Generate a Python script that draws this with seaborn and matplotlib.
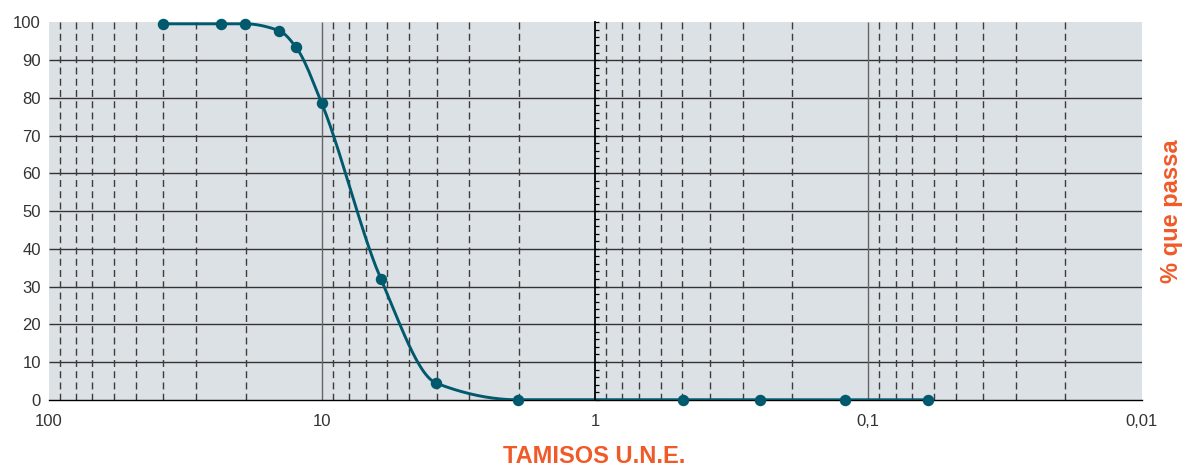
import numpy as np
import matplotlib
matplotlib.use("Agg")
import matplotlib.pyplot as plt
from matplotlib.ticker import FixedLocator, NullLocator, MultipleLocator, NullFormatter
import seaborn as sns

# sieve opening (mm) and % passing
sieve_mm = [38.0, 23.4, 19.1, 14.35, 12.43, 10.0, 6.07, 3.81, 1.91, 0.478, 0.249, 0.122, 0.0607]
passing = [99.6, 99.6, 99.6, 97.8, 93.4, 78.5, 31.9, 4.4, 0.0, 0.0, 0.0, 0.0, 0.0]

x_ticks = [100, 10, 1, 0.1, 0.01]
x_tick_labels = ["100", "10", "1", "0,1", "0,01"]
y_ticks = list(range(0, 101, 10))

# dashed guide lines inside each decade (fraction of the decade start)
decade_starts = [100, 10, 1, 0.1]
dash_factors = [0.9115, 0.7945, 0.6911, 0.5757, 0.4787, 0.3800, 0.2881, 0.1901]

ORANGE = "#f05a28"
CURVE = "#00596c"
BG = "#dce1e5"


def monotone_curve(xk, yk, n=400):
    """Monotone cubic (Fritsch-Carlson) through the points, in log10(x)."""
    t = np.log10(np.asarray(xk, float))[::-1]
    y = np.asarray(yk, float)[::-1]
    h = np.diff(t)
    delta = np.diff(y) / h
    d = np.zeros_like(y)
    d[0], d[-1] = delta[0], delta[-1]
    for k in range(1, len(y) - 1):
        if delta[k - 1] * delta[k] <= 0:
            d[k] = 0.0
        else:
            w1 = 2 * h[k] + h[k - 1]
            w2 = h[k] + 2 * h[k - 1]
            d[k] = (w1 + w2) / (w1 / delta[k - 1] + w2 / delta[k])
    ts = np.linspace(t[0], t[-1], n)
    idx = np.clip(np.searchsorted(t, ts) - 1, 0, len(h) - 1)
    s = (ts - t[idx]) / h[idx]
    h00 = 2 * s**3 - 3 * s**2 + 1
    h10 = s**3 - 2 * s**2 + s
    h01 = -2 * s**3 + 3 * s**2
    h11 = s**3 - s**2
    ys = h00 * y[idx] + h10 * h[idx] * d[idx] + h01 * y[idx + 1] + h11 * h[idx] * d[idx + 1]
    return 10 ** ts, ys


sns.set_style("white")
plt.rcParams["font.family"] = ["Liberation Sans", "DejaVu Sans"]

fig = plt.figure(figsize=(11.89, 4.69), dpi=100)
ax = fig.add_axes([0.04087, 0.14755, 0.9192, 0.8049])
ax.set_facecolor(BG)
ax.set_xscale("log")
ax.set_xlim(100, 0.01)
ax.set_ylim(0, 100)

# grid
ax.hlines(y_ticks[1:-1], 100, 0.01, colors="#333333", linewidth=1.0, zorder=1)
ax.vlines([10, 0.1], 0, 100, colors="#666666", linewidth=1.0, zorder=1)
dash_x = [d * f for d in decade_starts for f in dash_factors]
ax.vlines(dash_x, 100, 0, colors="#3c3c3c", linewidth=1.0,
          linestyles=(0, (5.0, 3.1)), zorder=1)

# grading curve
cx, cy = monotone_curve(sieve_mm, passing)
sns.lineplot(x=cx, y=cy, ax=ax, sort=False, estimator=None, color=CURVE,
             linewidth=2.1, zorder=3)
sns.scatterplot(x=sieve_mm, y=passing, ax=ax, color=CURVE, s=68,
                edgecolor=CURVE, linewidth=0, zorder=4, clip_on=False)

ax.xaxis.set_major_locator(FixedLocator(x_ticks))
ax.xaxis.set_minor_locator(NullLocator())
ax.xaxis.set_minor_formatter(NullFormatter())
ax.set_xticklabels(x_tick_labels)
ax.set_yticks(y_ticks)
ax.tick_params(axis="y", length=0, pad=5.5, labelsize=12, labelcolor="#333333")
ax.tick_params(axis="x", length=2.5, width=1, direction="out", pad=7.5,
               labelsize=12, labelcolor="#333333", color="black")

for side in ["left", "top", "right"]:
    ax.spines[side].set_visible(False)
ax.spines["bottom"].set_color("black")
ax.spines["bottom"].set_linewidth(1.0)
ax.spines["bottom"].set_zorder(2)

# small scale drawn on the line at 1 mm
ax2 = ax.twinx()
ax2.set_ylim(0, 100)
for side in ["left", "top", "bottom"]:
    ax2.spines[side].set_visible(False)
ax2.spines["right"].set_position(("data", 1))
ax2.spines["right"].set_color("black")
ax2.spines["right"].set_linewidth(1.3)
ax2.yaxis.set_major_locator(MultipleLocator(2))
ax2.yaxis.set_major_formatter(NullFormatter())
ax2.tick_params(axis="y", direction="out", length=3, width=0.9, color="black")

ax.set_xlabel("TAMISOS U.N.E.", color=ORANGE, fontsize=17, fontweight="bold",
              va="bottom")
ax.xaxis.set_label_coords(0.499, -0.1795)
ax.yaxis.set_label_position("right")
ax.set_ylabel("% que passa", color=ORANGE, fontsize=17, fontweight="bold",
              rotation=90, va="center")
ax.yaxis.set_label_coords(1.027, 0.5)

fig.savefig("out.png", dpi=100)
